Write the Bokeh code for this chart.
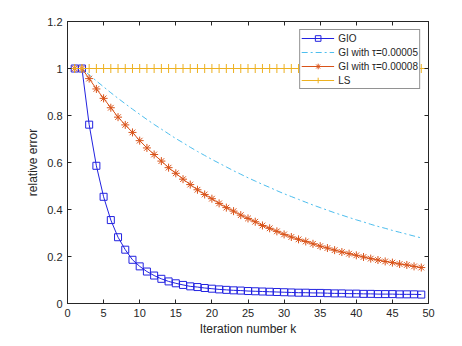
from bokeh.plotting import figure
from bokeh.models import (FixedTicker, CustomJSTickFormatter, LinearAxis, Legend,
                          LegendItem, Range1d, ColumnDataSource)
from bokeh.embed import file_html
from bokeh.resources import INLINE

k = list(range(1, 50))

gio = [1.0, 1.0, 0.761, 0.586, 0.454, 0.355, 0.282, 0.229, 0.186, 0.158,
       0.136, 0.119, 0.105, 0.094, 0.086, 0.079, 0.073, 0.070, 0.066, 0.063,
       0.060, 0.058, 0.056, 0.055, 0.053, 0.052, 0.051, 0.050, 0.049, 0.048,
       0.047, 0.046, 0.046, 0.045, 0.045, 0.044, 0.043, 0.043, 0.042, 0.042,
       0.041, 0.041, 0.040, 0.040, 0.040, 0.039, 0.039, 0.039, 0.038]

gi_5 = [1.0, 1.0, 0.973, 0.947, 0.922, 0.897, 0.873, 0.850, 0.827, 0.805,
        0.783, 0.762, 0.742, 0.722, 0.702, 0.684, 0.665, 0.647, 0.630, 0.613,
        0.597, 0.581, 0.565, 0.550, 0.535, 0.521, 0.507, 0.494, 0.480, 0.467,
        0.455, 0.443, 0.431, 0.419, 0.408, 0.397, 0.386, 0.376, 0.366, 0.356,
        0.347, 0.337, 0.328, 0.320, 0.311, 0.303, 0.295, 0.287, 0.279]

gi_8 = [1.0, 1.0, 0.957, 0.913, 0.873, 0.833, 0.793, 0.760, 0.728, 0.693,
        0.662, 0.634, 0.606, 0.578, 0.554, 0.529, 0.506, 0.484, 0.464, 0.446,
        0.426, 0.408, 0.393, 0.376, 0.362, 0.348, 0.332, 0.320, 0.307, 0.294,
        0.283, 0.273, 0.264, 0.254, 0.244, 0.236, 0.227, 0.219, 0.212, 0.205,
        0.198, 0.191, 0.185, 0.179, 0.174, 0.168, 0.164, 0.158, 0.153]

ls = [1.0] * 49

x_ticks = [0, 5, 10, 15, 20, 25, 30, 35, 40, 45, 50]
y_ticks = [0, 0.2, 0.4, 0.6, 0.8, 1.0, 1.2]

labels = ["GIO", "GI with \u03c4=0.00005", "GI with \u03c4=0.00008", "LS"]

FONT = "Liberation Sans"
AX = "#262626"

p = figure(width=454, height=338, output_backend="svg", toolbar_location=None,
           x_range=Range1d(0, 50), y_range=Range1d(0, 1.2),
           min_border_left=67, min_border_right=26, min_border_top=21,
           min_border_bottom=32)
p.grid.visible = False
p.outline_line_color = AX
p.outline_line_width = 1
p.background_fill_color = "white"
p.border_fill_color = "white"

fmt = CustomJSTickFormatter(code="return String(Math.round(tick*10)/10)")
empty = CustomJSTickFormatter(code="return ''")

for ax in (p.xaxis[0], p.yaxis[0]):
    ax.major_tick_in = 4
    ax.major_tick_out = 0
    ax.minor_tick_in = 0
    ax.minor_tick_out = 0
    ax.axis_line_color = AX
    ax.major_tick_line_color = AX
    ax.major_label_text_color = AX
    ax.major_label_text_font = FONT
    ax.major_label_text_font_size = "11px"
    ax.axis_label_text_font = FONT
    ax.axis_label_text_font_size = "12px"
    ax.axis_label_text_font_style = "normal"
    ax.axis_label_text_color = AX
    ax.major_label_standoff = 5

p.xaxis[0].ticker = FixedTicker(ticks=x_ticks)
p.yaxis[0].ticker = FixedTicker(ticks=y_ticks)
p.xaxis[0].formatter = fmt
p.yaxis[0].formatter = fmt
p.xaxis[0].axis_label = "Iteration number k"
p.yaxis[0].axis_label = "relative error"
p.xaxis[0].axis_label_standoff = 2
p.yaxis[0].axis_label_standoff = 4

top = LinearAxis(ticker=FixedTicker(ticks=x_ticks), formatter=empty)
right = LinearAxis(ticker=FixedTicker(ticks=y_ticks), formatter=empty)
for ax in (top, right):
    ax.major_tick_in = 4
    ax.major_tick_out = 0
    ax.minor_tick_in = 0
    ax.minor_tick_out = 0
    ax.axis_line_color = AX
    ax.major_tick_line_color = AX
    ax.major_label_standoff = 0
    ax.major_label_text_font_size = "1px"
p.add_layout(top, "above")
p.add_layout(right, "right")

src = ColumnDataSource(dict(k=k, gio=gio, gi5=gi_5, gi8=gi_8, ls=ls))

BLUE = "#2222e0"
RED = "#D95319"
CYAN = "#4DBEEE"
YEL = "#EDB120"

r1l = p.line("k", "gio", source=src, color=BLUE, line_width=1)
r1m = p.scatter("k", "gio", source=src, marker="square", size=7,
                line_color=BLUE, fill_color=None, line_width=1)
r2l = p.line("k", "gi5", source=src, color=CYAN, line_width=1,
             line_dash="6 3 2 3")
r3l = p.line("k", "gi8", source=src, color=RED, line_width=1)
r3m = p.scatter("k", "gi8", source=src, marker="asterisk", size=8,
                line_color=RED, line_width=1)
r4l = p.line("k", "ls", source=src, color=YEL, line_width=1)
r4m = p.scatter("k", "ls", source=src, marker="cross", size=9,
                line_color=YEL, line_width=1)

legend = Legend(items=[
    LegendItem(label=labels[0], renderers=[r1l, r1m]),
    LegendItem(label=labels[1], renderers=[r2l]),
    LegendItem(label=labels[2], renderers=[r3l, r3m]),
    LegendItem(label=labels[3], renderers=[r4l, r4m]),
], location="top_right")
legend.margin = 8
legend.padding = 1
legend.spacing = 0
legend.label_height = 14
legend.glyph_height = 14
legend.glyph_width = 33
legend.label_standoff = 4
legend.label_text_font = FONT
legend.label_text_font_size = "10px"
legend.label_text_color = AX
legend.border_line_color = AX
legend.border_line_width = 1
legend.background_fill_color = "white"
legend.background_fill_alpha = 1
p.add_layout(legend)

open("out.html", "w").write(file_html(p, INLINE))
